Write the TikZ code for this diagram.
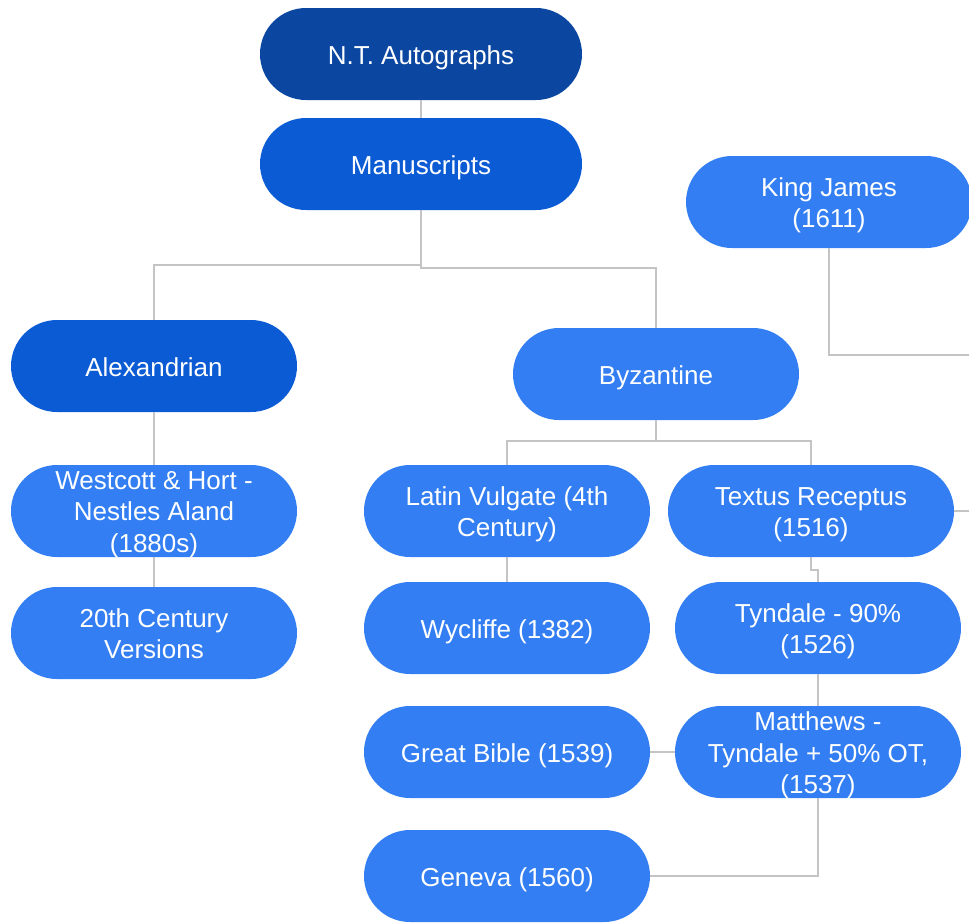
\documentclass[tikz,border=0pt]{standalone}
\usepackage{fontspec}
\setmainfont{Liberation Sans}
\definecolor{navy}{HTML}{0B47A1}
\definecolor{midblue}{HTML}{0B5BD5}
\definecolor{lightblue}{HTML}{327EF2}
\definecolor{conn}{HTML}{C4C4C4}
\newcommand{\dpstrut}{\rule[-5.5pt]{0pt}{5.5pt}}
\begin{document}
\begin{tikzpicture}[x=1pt,y=-1pt,
  pill/.style={fill=lightblue, rounded corners=46pt, minimum width=286pt,
    minimum height=92pt, inner sep=0pt},
  pilltext/.style={text=white, align=center, inner sep=0pt,
    font=\fontsize{26}{31.5}\selectfont, yshift=-3.5pt},
  widepill/.style={pill, minimum width=322pt},
  link/.style={draw=conn, line width=1.5pt}]
\useasboundingbox (0,0) rectangle (969,922);
\node[widepill, fill=navy, label={[pilltext]center:{N.T. Autographs}}] (nt) at (421,54) {};
\node[widepill, fill=midblue, label={[pilltext]center:{Manuscripts}}] (ms) at (421,164) {};
\node[pill, label={[pilltext]center:{King James\\(1611)}}] (kj) at (829,202) {};
\node[pill, fill=midblue, label={[pilltext]center:{Alexandrian\dpstrut}}] (alex) at (154,366) {};
\node[pill, label={[pilltext]center:{Byzantine}}] (byz) at (656,374) {};
\node[pill, label={[pilltext]center:{Westcott \& Hort -\\Nestles Aland\\(1880s)}}] (wh) at (154,511) {};
\node[pill, label={[pilltext]center:{20th Century\\Versions\dpstrut}}] (tc) at (154,633) {};
\node[pill, label={[pilltext]center:{Latin Vulgate (4th\\Century)}}] (lv) at (507,511) {};
\node[pill, label={[pilltext]center:{Textus Receptus\\(1516)}}] (tr) at (811,511) {};
\node[pill, label={[pilltext]center:{Wycliffe (1382)}}] (wy) at (507,628) {};
\node[pill, label={[pilltext]center:{Tyndale - 90\%\\(1526)}}] (ty) at (818,628) {};
\node[pill, label={[pilltext]center:{Great Bible (1539)}}] (gb) at (507,752) {};
\node[pill, label={[pilltext]center:{Matthews -\\Tyndale + 50\% OT,\\(1537)}}] (mt) at (818,752) {};
\node[pill, label={[pilltext]center:{Geneva (1560)}}] (ge) at (507,876) {};
\coordinate (kjend) at (975,355);
\coordinate (trend) at (975,511);
\draw[link] (nt.south) -- (ms.north);
\draw[link] (ms.south) |- (154,265) -- (alex.north);
\draw[link] (ms.south) |- (656,268) -- (byz.north);
\draw[link] (kj.south) |- (kjend);
\draw[link] (alex.south) -- (wh.north);
\draw[link] (wh.south) -- (tc.north);
\draw[link] (byz.south) |- (507,441) -- (lv.north);
\draw[link] (byz.south) |- (811,441) -- (tr.north);
\draw[link] (lv.south) -- (wy.north);
\draw[link] (tr.south) |- (818,570) -- (ty.north);
\draw[link] (tr.east) -- (trend);
\draw[link] (ty.south) -- (mt.north);
\draw[link] (gb.east) -- (mt.west);
\draw[link] (mt.south) |- (ge.east);
\end{tikzpicture}
\end{document}
